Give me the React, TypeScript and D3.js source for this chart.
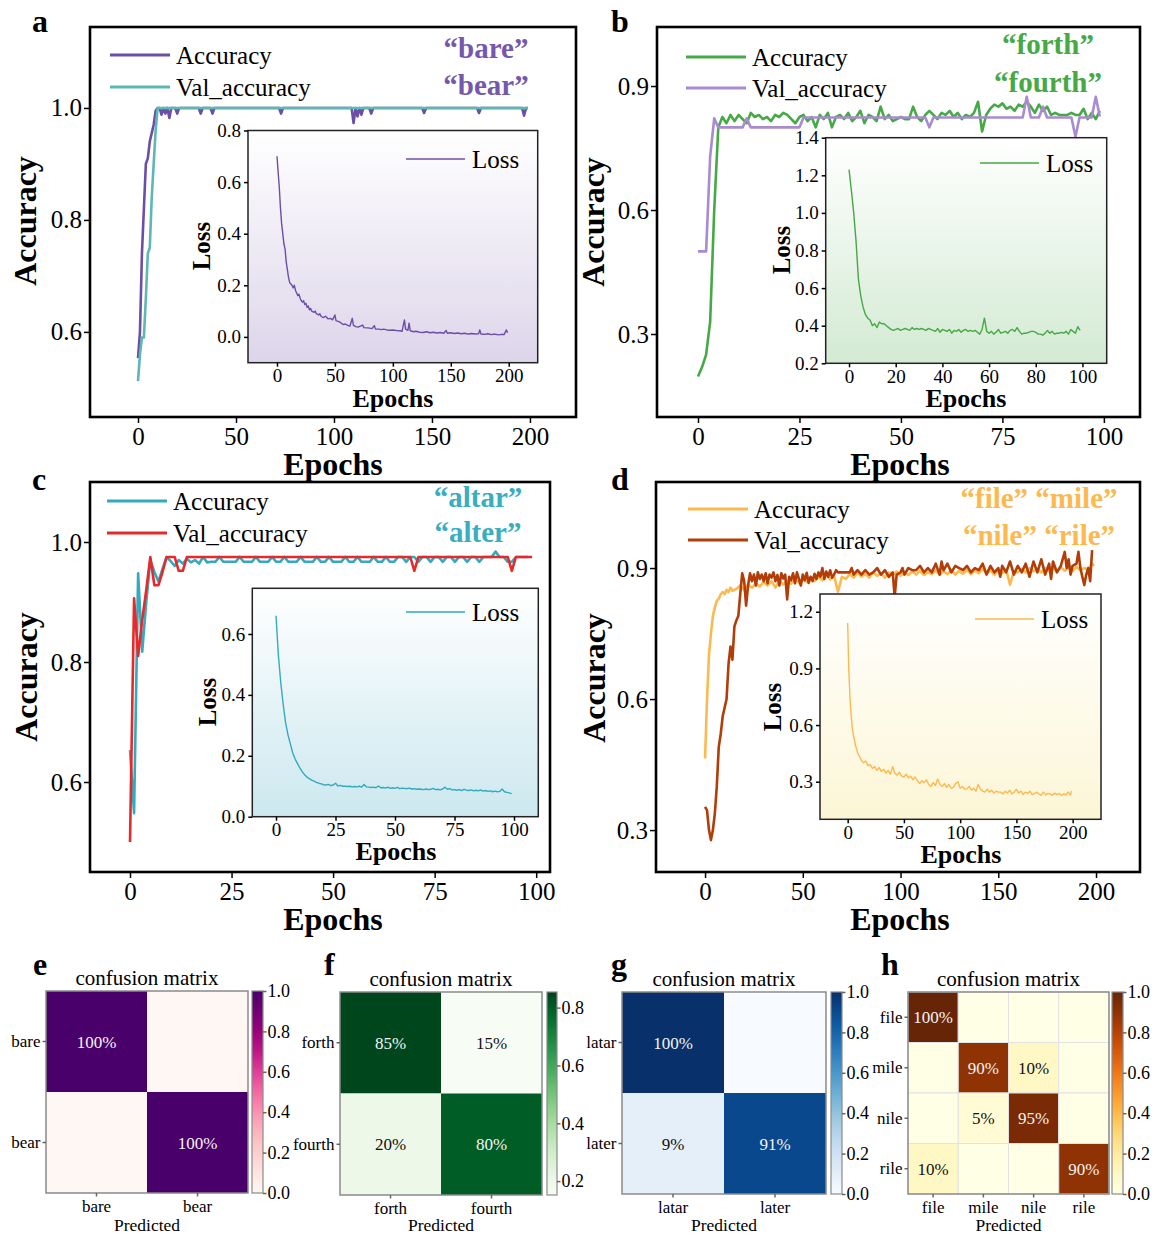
import React from 'react';
import * as d3 from 'd3';

const FONT = '"Liberation Serif", "Times New Roman", serif';

type Pt = [number, number];

// ---------- tick labels ----------
const epochTicks200 = [0, 50, 100, 150, 200];
const epochTicks100 = [0, 25, 50, 75, 100];
const epochTicksB = [0, 20, 40, 60, 80, 100];
const accTicksAC = [0.6, 0.8, 1.0];
const accTicksBD = [0.3, 0.6, 0.9];
const lossTicksA = [0, 0.2, 0.4, 0.6, 0.8];
const lossTicksB = [0.2, 0.4, 0.6, 0.8, 1.0, 1.2, 1.4];
const lossTicksC = [0, 0.2, 0.4, 0.6];
const lossTicksD = [0.3, 0.6, 0.9, 1.2];

// ---------- panel a : "bare" / "bear" ----------
const accA: Pt[] = [[0, .553], [1, .60], [2, .74], [3, .82], [4, .90], [5, .91], [6, .94], [7, .955], [8, .97], [9, .995], [10, 1], [11, 1], [12, .988], [13, 1], [14, .99], [15, 1], [16, .982], [17, 1], [19, 1], [20, .99], [21, 1], [31, 1], [32, .99], [33, 1], [37, 1], [38, .99], [39, 1], [72, 1], [73, .99], [74, 1], [109, 1], [110, .973], [111, 1], [112, .985], [113, 1], [114, .988], [115, 1], [118, 1], [119, .99], [120, 1], [145, 1], [146, .991], [147, 1], [173, 1], [174, .991], [175, 1], [196, 1], [197, .986], [198, 1], [199, 1]];
const valA: Pt[] = [[0, .512], [1, .56], [2, .59], [3, .59], [4, .66], [5, .74], [6, .75], [7, .84], [8, .90], [9, .96], [10, 1], [199, 1]];
const lossA: Pt[] = [[0, .70], [1, .64], [2, .58], [3, .50], [4, .44], [5, .40], [6, .36], [7, .34], [8, .29], [9, .26], [10, .23], [11, .21], [12, .205], [13, .20], [14, .19], [15, .20], [16, .18], [17, .17], [18, .16], [19, .165], [20, .15], [21, .14], [22, .135], [23, .14], [24, .125], [25, .13], [26, .115], [27, .12], [28, .105], [29, .11], [30, .10], [32, .095], [33, .10], [34, .09], [36, .085], [37, .09], [38, .08], [40, .075], [42, .08], [44, .07], [46, .072], [48, .066], [50, .085], [51, .062], [53, .06], [55, .055], [57, .048], [59, .05], [61, .045], [63, .042], [65, .072], [66, .045], [68, .04], [70, .038], [72, .042], [74, .046], [75, .036], [78, .035], [80, .034], [82, .032], [84, .044], [85, .03], [88, .03], [90, .028], [92, .03], [95, .027], [97, .026], [100, .027], [103, .025], [106, .024], [108, .022], [110, .066], [111, .03], [113, .025], [114, .053], [115, .024], [118, .02], [120, .022], [123, .018], [126, .017], [129, .02], [132, .016], [135, .018], [138, .015], [141, .017], [144, .014], [146, .025], [147, .014], [150, .016], [153, .013], [156, .015], [159, .012], [162, .014], [165, .011], [168, .013], [171, .011], [174, .012], [175, .027], [176, .011], [179, .01], [182, .012], [185, .009], [188, .011], [191, .008], [194, .01], [196, .009], [198, .027], [199, .016]];

// ---------- panel b : "forth" / "fourth" ----------
const accB = [.197, .22, .25, .33, .60, .80, .825, .81, .83, .815, .83, .82, .81, .835, .825, .83, .82, .825, .815, .83, .825, .835, .83, .82, .81, .825, .83, .815, .825, .80, .83, .82, .835, .80, .825, .83, .82, .835, .815, .825, .84, .81, .83, .825, .815, .85, .82, .83, .815, .82, .825, .82, .82, .85, .825, .815, .83, .84, .83, .82, .835, .83, .84, .825, .835, .82, .83, .825, .835, .862, .79, .83, .845, .855, .85, .858, .845, .85, .84, .855, .85, .862, .85, .835, .855, .84, .85, .83, .835, .83, .83, .83, .835, .83, .83, .845, .82, .835, .82, .84];
const valB: Pt[] = [[0, .50], [2, .50], [3, .73], [4, .822], [5, .80], [11, .80], [12, .822], [13, .80], [25, .80], [26, .824], [56, .824], [57, .80], [58, .824], [80, .824], [81, .874], [82, .824], [84, .824], [85, .85], [86, .824], [92, .824], [93, .777], [94, .824], [97, .824], [98, .874], [99, .826]];
const lossB = [1.23, 1.12, 1.0, .85, .65, .56, .50, .46, .44, .43, .40, .41, .39, .42, .41, .41, .40, .39, .38, .375, .38, .385, .375, .38, .385, .38, .375, .39, .38, .385, .38, .385, .38, .375, .385, .38, .375, .37, .385, .365, .38, .375, .37, .38, .36, .375, .37, .38, .365, .375, .38, .37, .375, .37, .375, .365, .355, .38, .44, .37, .36, .37, .355, .365, .38, .36, .365, .37, .36, .375, .38, .37, .39, .37, .355, .36, .36, .365, .37, .37, .365, .355, .355, .35, .36, .375, .36, .37, .355, .36, .36, .365, .36, .37, .355, .38, .37, .36, .395, .375];

// ---------- panel c : "altar" / "alter" ----------
const accC = [.653, .548, .948, .817, .90, .97, .95, .934, .955, .975, .968, .96, .97, .964, .972, .966, .97, .964, .975, .966, .967, .967, .975, .967, .967, .967, .967, .975, .967, .967, .967, .975, .967, .967, .967, .975, .967, .967, .975, .967, .967, .967, .975, .967, .967, .967, .975, .967, .967, .975, .967, .967, .967, .975, .967, .967, .975, .967, .967, .967, .975, .967, .967, .975, .967, .967, .975, .975, .967, .975, .975, .967, .975, .975, .967, .975, .975, .967, .975, .975, .967, .975, .975, .967, .975, .975, .967, .975, .975, .975, .984, .975, .975, .967, .967, .975, .975, .975, .975];
const valC: Pt[] = [[0, .50], [1, .906], [2, .81], [3, .87], [4, .92], [5, .975], [6, .928], [7, .928], [8, .95], [9, .975], [11, .975], [12, .952], [13, .952], [14, .975], [69, .975], [70, .952], [71, .975], [93, .975], [94, .952], [95, .975], [99, .975]];
const lossC = [.66, .53, .44, .37, .31, .27, .24, .21, .19, .175, .16, .148, .138, .13, .125, .12, .117, .113, .11, .108, .105, .104, .106, .102, .104, .11, .101, .103, .1, .1, .099, .1, .098, .099, .098, .1, .097, .106, .098, .097, .096, .097, .095, .101, .095, .096, .094, .097, .093, .095, .093, .096, .092, .094, .093, .092, .094, .091, .092, .09, .091, .09, .089, .091, .089, .09, .093, .089, .09, .088, .091, .097, .09, .092, .088, .089, .087, .089, .086, .09, .087, .086, .088, .085, .087, .085, .088, .084, .086, .083, .085, .082, .084, .082, .083, .091, .082, .08, .078, .076];

// ---------- panel d : "file" "mile" "nile" "rile" ----------
const accD: Pt[] = [[0, .464], [1, .60], [2, .70], [3, .75], [4, .79], [5, .81], [6, .825], [7, .83], [8, .84], [9, .845], [10, .84], [11, .85], [12, .845], [13, .855], [14, .848], [16, .852], [18, .86], [20, .85], [22, .862], [24, .855], [26, .865], [28, .858], [30, .868], [32, .86], [34, .87], [36, .855], [38, .872], [40, .862], [42, .87], [44, .864], [46, .875], [48, .866], [50, .874], [52, .868], [54, .878], [56, .87], [58, .88], [60, .872], [62, .885], [64, .874], [66, .882], [68, .846], [70, .88], [72, .875], [74, .886], [76, .878], [78, .89], [80, .88], [82, .886], [84, .878], [86, .89], [88, .882], [90, .888], [92, .878], [94, .89], [96, .884], [98, .892], [100, .882], [102, .89], [104, .884], [106, .892], [108, .885], [110, .894], [112, .884], [114, .89], [116, .886], [118, .895], [120, .885], [122, .892], [124, .886], [126, .896], [128, .885], [130, .893], [132, .887], [134, .896], [136, .886], [138, .894], [140, .888], [142, .898], [144, .887], [146, .895], [148, .884], [150, .896], [152, .888], [154, .897], [156, .862], [158, .893], [160, .89], [162, .898], [164, .89], [166, .9], [168, .892], [170, .898], [172, .89], [174, .9], [176, .893], [178, .9], [180, .892], [182, .902], [184, .894], [186, .9], [188, .893], [190, .903], [192, .895], [194, .9], [196, .896], [198, .91], [199, .905]];
const valD: Pt[] = [[0, .353], [1, .345], [2, .30], [3, .277], [4, .30], [5, .338], [6, .40], [7, .49], [8, .52], [9, .56], [10, .58], [11, .60], [12, .68], [13, .72], [14, .69], [15, .766], [16, .78], [17, .79], [18, .84], [19, .888], [20, .87], [21, .814], [22, .86], [23, .888], [24, .87], [25, .885], [26, .86], [27, .89], [28, .875], [29, .885], [30, .87], [31, .888], [32, .865], [33, .885], [34, .878], [35, .89], [36, .87], [37, .884], [38, .86], [39, .888], [40, .876], [41, .885], [42, .828], [43, .88], [44, .872], [45, .888], [46, .865], [47, .89], [48, .875], [49, .86], [50, .885], [51, .872], [52, .889], [53, .866], [54, .88], [55, .87], [56, .887], [57, .875], [58, .89], [59, .88], [60, .9], [61, .875], [62, .892], [63, .88], [64, .895], [65, .878], [66, .885], [67, .895], [68, .89], [70, .89], [72, .89], [74, .89], [75, .9], [76, .885], [78, .895], [80, .885], [82, .895], [84, .885], [86, .89], [88, .9], [90, .885], [92, .895], [94, .88], [96, .89], [97, .834], [98, .885], [100, .89], [101, .9], [102, .885], [104, .9], [106, .895], [108, .895], [110, .905], [112, .89], [114, .9], [116, .89], [118, .91], [120, .885], [121, .915], [122, .895], [124, .91], [126, .89], [128, .905], [130, .9], [132, .895], [134, .905], [136, .89], [138, .9], [140, .895], [142, .91], [144, .885], [146, .905], [148, .89], [150, .9], [151, .88], [152, .905], [154, .89], [156, .915], [158, .885], [160, .905], [162, .89], [164, .91], [166, .88], [168, .915], [170, .89], [172, .92], [174, .885], [176, .91], [177, .875], [178, .915], [180, .89], [182, .905], [184, .937], [185, .9], [186, .92], [187, .885], [188, .905], [190, .91], [191, .937], [192, .9], [193, .88], [194, .861], [195, .885], [196, .9], [197, .87], [198, .941]];
const lossD: Pt[] = [[0, 1.14], [1, .89], [2, .75], [3, .66], [4, .59], [5, .55], [6, .52], [7, .49], [8, .47], [9, .45], [10, .44], [12, .415], [14, .40], [16, .41], [18, .385], [20, .39], [22, .37], [24, .38], [26, .36], [28, .375], [30, .355], [32, .365], [34, .345], [36, .36], [38, .34], [40, .38], [42, .345], [44, .335], [46, .35], [48, .33], [50, .325], [52, .34], [54, .32], [56, .33], [58, .31], [60, .325], [62, .305], [64, .29], [66, .305], [68, .295], [70, .31], [72, .285], [74, .275], [76, .295], [78, .28], [80, .315], [82, .285], [84, .275], [86, .29], [88, .27], [90, .285], [92, .265], [94, .27], [96, .29], [98, .30], [100, .265], [102, .275], [104, .26], [106, .262], [108, .275], [110, .255], [112, .265], [114, .25], [116, .285], [118, .26], [120, .25], [122, .245], [124, .26], [126, .245], [128, .255], [130, .24], [132, .25], [134, .245], [136, .245], [138, .235], [140, .25], [142, .24], [144, .255], [146, .235], [148, .245], [150, .26], [152, .24], [154, .25], [156, .232], [158, .245], [160, .238], [162, .25], [164, .232], [166, .236], [168, .245], [170, .235], [172, .228], [174, .245], [176, .23], [178, .238], [180, .236], [182, .228], [184, .24], [186, .232], [188, .238], [190, .228], [192, .235], [194, .23], [196, .245], [198, .23], [199, .25]];

// ---------- confusion matrices ----------
const labelsE = ['bare', 'bear'];
const cmE = [[1, 0], [0, 1]];
const labelsF = ['forth', 'fourth'];
const cmF = [[0.85, 0.15], [0.20, 0.80]];
const labelsG = ['latar', 'later'];
const cmG = [[1, 0], [0.09, 0.91]];
const labelsH = ['file', 'mile', 'nile', 'rile'];
const cmH = [[1, 0, 0, 0], [0, 0.9, 0.1, 0], [0, 0.05, 0.95, 0], [0.1, 0, 0, 0.9]];
const cbTicksFull = [0, 0.2, 0.4, 0.6, 0.8, 1.0];
const cbTicksF = [0.2, 0.4, 0.6, 0.8];

const byEpoch = (vals: number[]): Pt[] => vals.map((v, i) => [i, v] as Pt);

function styleAxis(g: SVGGElement, axis: any, size: number, tickColor = '#000') {
  const s = d3.select(g);
  s.call(axis);
  s.attr('font-family', FONT).attr('font-size', size);
  s.select('.domain').remove();
  s.selectAll('.tick line').attr('stroke', tickColor).attr('stroke-width', 1.5);
  s.selectAll('.tick text').attr('fill', '#000');
}

const Axis = ({ axis, x = 0, y = 0, size, tickColor }: any) => (
  <g transform={`translate(${x},${y})`} ref={(g) => { if (g) styleAxis(g, axis, size, tickColor); }} />
);

const Inset = ({ s, id }: any) => {
  const x = d3.scaleLinear().domain(s.xDomain).range([s.box.x0, s.box.x1]);
  const y = d3.scaleLinear().domain(s.yDomain).range([s.box.y1, s.box.y0]);
  const line = d3.line<Pt>().x((d) => x(d[0])).y((d) => y(d[1]));
  const w = s.box.x1 - s.box.x0;
  const h = s.box.y1 - s.box.y0;
  return (
    <g>
      <defs>
        <linearGradient id={id} x1="0" y1="0" x2="0" y2="1">
          <stop offset="0" stopColor="#ffffff" />
          <stop offset="1" stopColor={s.bg} />
        </linearGradient>
      </defs>
      <rect x={s.box.x0} y={s.box.y0} width={w} height={h} fill={`url(#${id})`} />
      <path d={line(s.data) || ''} fill="none" stroke={s.color} strokeWidth={1.4} strokeLinejoin="round" />
      <rect x={s.box.x0} y={s.box.y0} width={w} height={h} fill="none" stroke="#222" strokeWidth={1.5} />
      <Axis axis={d3.axisBottom(x).tickValues(s.xTicks).tickSize(4).tickPadding(2).tickFormat(d3.format('d'))} y={s.box.y1} size={19} />
      <Axis axis={d3.axisLeft(y).tickValues(s.yTicks).tickSize(4).tickPadding(3).tickFormat(d3.format('.1f'))} x={s.box.x0} size={19} />
      <line x1={s.legend.x} x2={s.legend.x + 59} y1={s.legend.y} y2={s.legend.y} stroke={s.color} strokeWidth={1.5} />
      <text x={s.legend.x + 66} y={s.legend.y + 8.5} fontSize={25} fontFamily={FONT}>Loss</text>
      <text x={s.xTitle.x} y={s.xTitle.y + 1.5} fontSize={26} fontWeight="bold" fontFamily={FONT} textAnchor="middle">Epochs</text>
      <text transform={`translate(${s.yTitle.x},${s.yTitle.y}) rotate(-90)`} fontSize={25} fontWeight="bold" fontFamily={FONT} textAnchor="middle">Loss</text>
    </g>
  );
};

const TrainPanel = ({ p }: any) => {
  const x = d3.scaleLinear().domain(p.xDomain).range([p.box.x0, p.box.x1]);
  const y = d3.scaleLinear().domain(p.yDomain).range([p.box.y1, p.box.y0]);
  const line = d3.line<Pt>().x((d) => x(d[0])).y((d) => y(d[1]));
  const names = ['Accuracy', 'Val_accuracy'];
  return (
    <g>
      <rect x={p.box.x0} y={p.box.y0} width={p.box.x1 - p.box.x0} height={p.box.y1 - p.box.y0} fill="#fff" />
      {p.series.map((s: any, i: number) => (
        <path key={i} d={line(s.data) || ''} fill="none" stroke={s.color} strokeWidth={2.6} strokeLinejoin="round" />
      ))}
      <Inset s={p.inset} id={`grad-${p.letter.t}`} />
      <rect x={p.box.x0} y={p.box.y0} width={p.box.x1 - p.box.x0} height={p.box.y1 - p.box.y0} fill="none" stroke="#000" strokeWidth={2.6} />
      <Axis axis={d3.axisBottom(x).tickValues(p.xTicks).tickSize(6).tickPadding(4.5).tickFormat(d3.format('d'))} y={p.box.y1} size={25} />
      <Axis axis={d3.axisLeft(y).tickValues(p.yTicks).tickSize(6).tickPadding(2).tickFormat(d3.format('.1f'))} x={p.box.x0} size={25} />
      {p.series.map((s: any, i: number) => (
        <g key={i}>
          <line x1={p.legend.x} x2={p.legend.x + 60} y1={p.legend.ys[i]} y2={p.legend.ys[i]} stroke={s.color} strokeWidth={3} />
          <text x={p.legend.x + 66} y={p.legend.ys[i] + 8.5} fontSize={25} fontFamily={FONT}>{names[i]}</text>
        </g>
      ))}
      {p.words.lines.map((t: string, i: number) => (
        <text key={i} x={p.words.cx} y={p.words.ys[i]} fill={p.words.color} fontSize={29} fontWeight="bold" fontFamily={FONT} textAnchor="middle">{t}</text>
      ))}
      <text x={p.xTitle.x} y={p.xTitle.y + 1} fontSize={32} fontWeight="bold" fontFamily={FONT} textAnchor="middle">Epochs</text>
      <text transform={`translate(${p.yTitle.x},${p.yTitle.y}) rotate(-90)`} fontSize={32} fontWeight="bold" fontFamily={FONT} textAnchor="middle">Accuracy</text>
      <text x={p.letter.x} y={p.letter.y} fontSize={32} fontWeight="bold" fontFamily={FONT}>{p.letter.t}</text>
    </g>
  );
};

const Confusion = ({ c }: any) => {
  const bx = d3.scaleBand().domain(c.labels).range([c.x0, c.x1]);
  const by = d3.scaleBand().domain(c.labels).range([c.y0, c.y1]);
  const color = d3.scaleSequential(c.interp).domain(c.cDomain);
  const cb = d3.scaleLinear().domain(c.cDomain).range([c.y1, c.y0]);
  const mid = (c.cDomain[0] + c.cDomain[1]) / 2;
  const stops = d3.range(0, 1.0001, 0.05);
  const gid = `cb-${c.letter}`;
  const cx = (c.x0 + c.x1) / 2;
  return (
    <g>
      <defs>
        <linearGradient id={gid} x1="0" y1="1" x2="0" y2="0">
          {stops.map((t) => (
            <stop key={t} offset={t} stopColor={color(c.cDomain[0] + t * (c.cDomain[1] - c.cDomain[0]))} />
          ))}
        </linearGradient>
      </defs>
      {c.matrix.map((row: number[], i: number) => row.map((v: number, j: number) => (
        <g key={`${i}-${j}`}>
          <rect x={bx(c.labels[j])} y={by(c.labels[i])} width={bx.bandwidth()} height={by.bandwidth()} fill={color(v)}
            stroke={c.grid ? '#e2e2e2' : 'none'} strokeWidth={1} />
          {v > 0 && (
            <text x={(bx(c.labels[j]) || 0) + bx.bandwidth() / 2} y={(by(c.labels[i]) || 0) + by.bandwidth() / 2 + 6}
              textAnchor="middle" fontSize={17} fontFamily={FONT} fill={v > mid ? '#f4f4f4' : '#111'}>
              {`${Math.round(v * 100)}%`}
            </text>
          )}
        </g>
      )))}
      <rect x={c.x0} y={c.y0} width={c.x1 - c.x0} height={c.y1 - c.y0} fill="none" stroke="#8a8a8a" strokeWidth={1.5} />
      <rect x={c.cbx} y={c.y0} width={c.cbw} height={c.y1 - c.y0} fill={`url(#${gid})`} stroke="#8a8a8a" strokeWidth={1.2} />
      <Axis axis={d3.axisRight(cb).tickValues(c.cbTicks).tickSize(3.5).tickPadding(1).tickFormat(d3.format('.1f'))} x={c.cbx + c.cbw} size={18} tickColor="#666" />
      <Axis axis={d3.axisLeft(by).tickSize(3.5).tickPadding(2)} x={c.x0} size={17} tickColor="#666" />
      <Axis axis={d3.axisBottom(bx).tickSize(3.5).tickPadding(3)} y={c.y1} size={17} tickColor="#666" />
      <text x={cx} y={c.y0 - 6} fontSize={21} fontFamily={FONT} textAnchor="middle">confusion matrix</text>
      <text x={cx} y={1231} fontSize={17.5} fontFamily={FONT} textAnchor="middle">Predicted</text>
      <text x={c.lx} y={975} fontSize={32} fontWeight="bold" fontFamily={FONT}>{c.letter}</text>
    </g>
  );
};

const panels = [
  {
    box: { x0: 90, y0: 27, x1: 576, y1: 417 }, xDomain: [-24.5, 223.5], yDomain: [0.448, 1.1446],
    xTicks: epochTicks200, yTicks: accTicksAC,
    series: [{ data: accA, color: '#6b4fa7' }, { data: valA, color: '#5db7b3' }],
    legend: { x: 110, ys: [55, 87] },
    words: { cx: 486, ys: [58, 95], lines: ['\u201cbare\u201d', '\u201cbear\u201d'], color: '#7458ad' },
    xTitle: { x: 333, y: 474 }, yTitle: { x: 36, y: 221 }, letter: { x: 32, y: 32, t: 'a' },
    inset: {
      box: { x0: 248, y0: 130.5, x1: 537.7, y1: 362.7 }, xDomain: [-25, 225], yDomain: [-0.1, 0.8],
      xTicks: epochTicks200, yTicks: lossTicksA, data: lossA, color: '#6b4fa7', bg: '#ddd5ea',
      legend: { x: 406, y: 159 }, xTitle: { x: 393, y: 405 }, yTitle: { x: 210, y: 246 },
    },
  },
  {
    box: { x0: 657, y0: 27, x1: 1140, y1: 417 }, xDomain: [-10.1, 108.9], yDomain: [0.0992, 1.0428],
    xTicks: epochTicks100, yTicks: accTicksBD,
    series: [{ data: byEpoch(accB), color: '#45a945' }, { data: valB, color: '#a98bd0' }],
    legend: { x: 686, ys: [57, 88] },
    words: { cx: 1048, ys: [54, 92], lines: ['\u201cforth\u201d', '\u201cfourth\u201d'], color: '#45a945' },
    xTitle: { x: 900, y: 474 }, yTitle: { x: 604, y: 222 }, letter: { x: 611, y: 32, t: 'b' },
    inset: {
      box: { x0: 825.7, y0: 137.7, x1: 1106.7, y1: 363.3 }, xDomain: [-10, 110.4], yDomain: [0.2, 1.4],
      xTicks: epochTicksB, yTicks: lossTicksB, data: byEpoch(lossB), color: '#45a945', bg: '#d3ead3',
      legend: { x: 980, y: 163 }, xTitle: { x: 966, y: 405 }, yTitle: { x: 790, y: 250 },
    },
  },
  {
    box: { x0: 90, y0: 482, x1: 550, y1: 872 }, xDomain: [-9.85, 103.4], yDomain: [0.45, 1.1],
    xTicks: epochTicks100, yTicks: accTicksAC,
    series: [{ data: byEpoch(accC), color: '#35a9bd' }, { data: valC, color: '#e62a2b' }],
    legend: { x: 107, ys: [501, 533] },
    words: { cx: 478, ys: [507, 542], lines: ['\u201caltar\u201d', '\u201calter\u201d'], color: '#3aadbf' },
    xTitle: { x: 333, y: 929 }, yTitle: { x: 37, y: 677 }, letter: { x: 32, y: 490, t: 'c' },
    inset: {
      box: { x0: 252.3, y0: 588.3, x1: 538.3, y1: 816.7 }, xDomain: [-9.96, 110.2], yDomain: [0, 0.75],
      xTicks: epochTicks100, yTicks: lossTicksC, data: byEpoch(lossC), color: '#35a9bd', bg: '#cce8ef',
      legend: { x: 406, y: 612 }, xTitle: { x: 396, y: 858 }, yTitle: { x: 216, y: 702 },
    },
  },
  {
    box: { x0: 656, y0: 482, x1: 1140, y1: 872 }, xDomain: [-25.1, 222.5], yDomain: [0.204, 1.097],
    xTicks: epochTicks200, yTicks: accTicksBD,
    series: [{ data: accD, color: '#fdb94f' }, { data: valD, color: '#b23d07' }],
    legend: { x: 688, ys: [509, 540] },
    words: { cx: 1039, ys: [508, 545], lines: ['\u201cfile\u201d \u201cmile\u201d', '\u201cnile\u201d \u201crile\u201d'], color: '#fdb94f' },
    xTitle: { x: 900, y: 929 }, yTitle: { x: 605, y: 678 }, letter: { x: 611, y: 490, t: 'd' },
    inset: {
      box: { x0: 820, y0: 594, x1: 1101, y1: 819.3 }, xDomain: [-24.6, 225.2], yDomain: [0.101, 1.294],
      xTicks: epochTicks200, yTicks: lossTicksD, data: lossD, color: '#fdb94f', bg: '#fcf6d6',
      legend: { x: 975, y: 619 }, xTitle: { x: 961, y: 861 }, yTitle: { x: 781, y: 707 },
    },
  },
];

const matrices = [
  { letter: 'e', lx: 33, labels: labelsE, matrix: cmE, interp: d3.interpolateRdPu, cDomain: [0, 1], cbTicks: cbTicksFull,
    x0: 46, x1: 248, y0: 991, y1: 1193, cbx: 252, cbw: 11, grid: false },
  { letter: 'f', lx: 324, labels: labelsF, matrix: cmF, interp: d3.interpolateGreens, cDomain: [0.152, 0.854], cbTicks: cbTicksF,
    x0: 340, x1: 542, y0: 992, y1: 1195, cbx: 547, cbw: 10, grid: false },
  { letter: 'g', lx: 611, labels: labelsG, matrix: cmG, interp: d3.interpolateBlues, cDomain: [0, 1], cbTicks: cbTicksFull,
    x0: 622, x1: 826, y0: 992, y1: 1194, cbx: 831, cbw: 11, grid: false },
  { letter: 'h', lx: 881, labels: labelsH, matrix: cmH, interp: d3.interpolateYlOrBr, cDomain: [0, 1], cbTicks: cbTicksFull,
    x0: 908, x1: 1109, y0: 992, y1: 1194, cbx: 1112, cbw: 11, grid: true },
];

export default function App() {
  return (
    <svg width={1156} height={1237} viewBox="0 0 1156 1237"
      style={{ position: 'absolute', left: 0, top: 0, background: '#fff' }} fontFamily={FONT}>
      <rect width={1156} height={1237} fill="#fff" />
      {panels.map((p) => <TrainPanel key={p.letter.t} p={p} />)}
      {matrices.map((c) => <Confusion key={c.letter} c={c} />)}
    </svg>
  );
}
